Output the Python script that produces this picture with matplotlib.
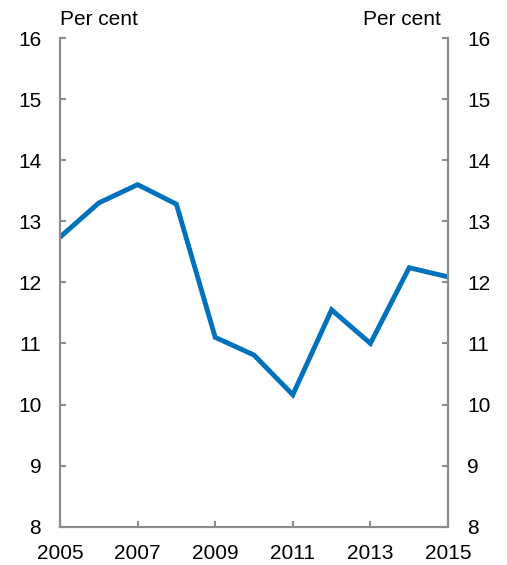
import matplotlib
matplotlib.use("Agg")
import matplotlib.pyplot as plt

plt.rcParams['font.family'] = ['Liberation Sans', 'DejaVu Sans']

years = [2005, 2006, 2007, 2008, 2009, 2010, 2011, 2012, 2013, 2014, 2015]
rate = [12.74, 13.30, 13.60, 13.28, 11.10, 10.81, 10.16, 11.55, 11.00, 12.24, 12.09]

x_ticks = [2005, 2007, 2009, 2011, 2013, 2015]
y_ticks = [8, 9, 10, 11, 12, 13, 14, 15, 16]

grey = '#8c8c8c'
fs = 15

fig = plt.figure(figsize=(5.07, 5.65), dpi=100)
left, right = 60 / 507, 448 / 507
bottom, top = 1 - 526.7 / 565, 1 - 38 / 565
ax = fig.add_axes([left, bottom, right - left, top - bottom])
ax.plot(years, rate, color='#0071BC', linewidth=3.5, solid_joinstyle='miter')

ax.set_xlim(2005, 2015)
ax.set_ylim(8, 16)
ax.set_xticks(x_ticks)
ax.set_yticks(y_ticks)

ax2 = ax.twinx()
ax2.set_ylim(8, 16)
ax2.set_yticks(y_ticks)

for a in (ax, ax2):
    a.spines['top'].set_visible(False)
    for s in ('left', 'right', 'bottom'):
        a.spines[s].set_color(grey)
        a.spines[s].set_linewidth(1.5)

ax.tick_params(axis='both', direction='in', length=4, width=1.5, color=grey,
               labelsize=fs)
ax.tick_params(axis='y', pad=13.5)
ax.tick_params(axis='x', pad=12.5)
ax2.tick_params(axis='y', direction='in', length=4, width=1.5, color=grey,
                labelsize=fs, pad=14)

fig.text(left, 1 - 25 / 565, 'Per cent', fontsize=fs, ha='left', va='baseline')
fig.text(441 / 507, 1 - 25 / 565, 'Per cent', fontsize=fs, ha='right', va='baseline')

fig.savefig('out.png', dpi=100)
